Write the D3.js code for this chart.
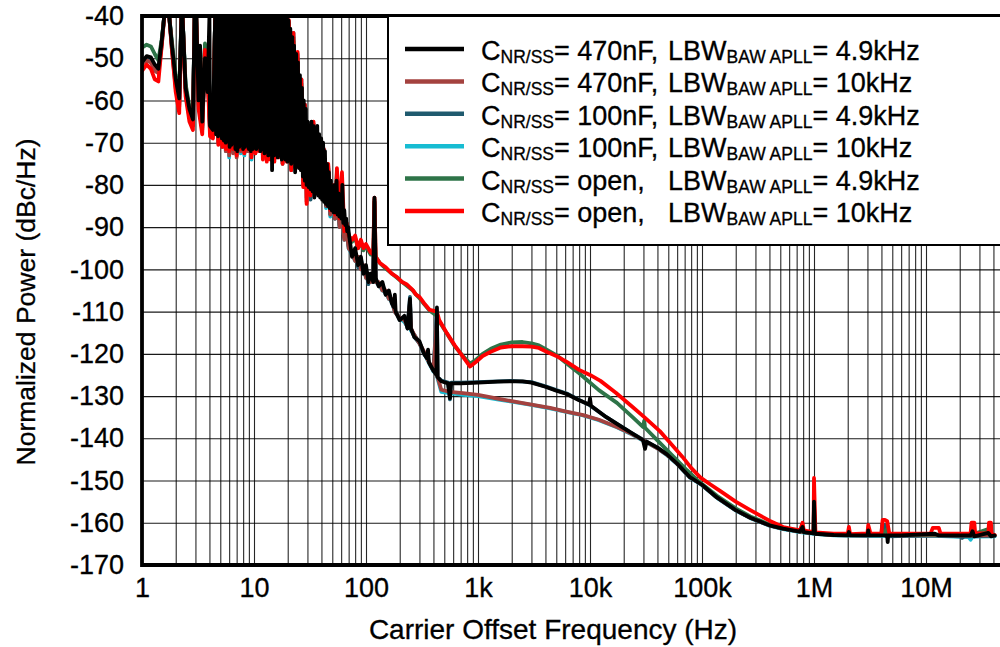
<!DOCTYPE html>
<html><head><meta charset="utf-8">
<script src="https://cdn.jsdelivr.net/npm/d3@7"></script>
<style>
html,body{margin:0;padding:0;background:#fff;}
svg{display:block;font-family:"Liberation Sans",Arial,sans-serif;}
svg text{fill:#000;stroke:#000;stroke-width:0.3px;}
</style></head>
<body><svg id="c" width="1000" height="647"></svg>
<script>
// ---------- data ----------
const xTickValues = [1, 10, 100, 1e3, 1e4, 1e5, 1e6, 1e7];
const xTickLabels = ["1", "10", "100", "1k", "10k", "100k", "1M", "10M"];
const yTickValues = [-170, -160, -150, -140, -130, -120, -110, -100, -90, -80, -70, -60, -50, -40];

const seriesNames = [
  ["470nF,", "4.9kHz"], ["470nF,", "10kHz"], ["100nF,", "4.9kHz"],
  ["100nF,", "10kHz"], ["open,", "4.9kHz"], ["open,", "10kHz"]
];
const seriesColors = ["#000000", "#A4423F", "#1F5A6E", "#17BCD2", "#2E7448", "#FF0000"];

// low-frequency spur region (Hz), shared by the coloured traces
const lowF = [1, 1.1, 1.2, 1.3, 1.4, 1.5, 1.58, 1.75, 1.85, 2.0, 2.15, 2.25, 2.3, 2.45, 2.65, 2.85, 2.95, 3.05, 3.2, 3.45,
  3.65, 3.85, 4.05, 4.3, 4.5, 4.6, 4.8, 5.0, 5.2, 5.4, 5.6, 5.8, 6.0, 6.2, 6.5, 6.8, 7.0, 7.3, 7.6, 7.9,
  8.2, 8.5, 8.8, 9.1, 9.5, 9.9, 10.3, 10.7, 11.1, 11.5, 12.0, 12.5, 13.0, 13.5, 14.0, 14.6, 15.2, 15.8, 16.5, 17.2,
  18.0, 18.8, 19.6, 20.5, 21.5, 22.5, 23.5, 24.5, 25.5, 26.5, 27.5, 28.5, 29.5, 30.5, 32, 34, 36, 38, 40, 42,
  44, 46, 48, 50, 53, 55, 58, 61, 64, 67, 70];

const brnLow = [-51.5, -50.5, -51, -53, -53.5, -47, -40, -40, -48, -57, -61.5, -40, -40, -58, -64, -66, -40, -40, -61, -67,
  -48, -53, -67.5, -68.5, -40, -40, -70, -40, -71, -40, -72, -40, -73, -40, -72.5, -40, -73.5, -40, -72, -40,
  -72.5, -40, -72, -40, -73, -40, -72.5, -40, -71.5, -40, -73, -40, -74, -40, -73.5, -40, -74, -40, -73, -40,
  -75, -40, -74, -43, -76, -46, -76, -51, -72, -57, -80, -63, -84, -68, -82, -67, -81, -70, -75, -73,
  -85, -77, -87, -82, -88, -80, -90, -87, -93, -91, -95];
const tealLow = [-50.5, -49.8, -50, -52, -52.8, -46, -40, -40, -47, -56, -60.5, -40, -40, -57, -63, -65.5, -40, -40, -60, -66,
  -47, -52, -66.5, -67.5, -40, -40, -69, -40, -70, -40, -71, -40, -72, -40, -71, -40, -72.5, -40, -71, -40,
  -71.5, -40, -71, -40, -72.5, -40, -71.5, -40, -71, -40, -72.5, -40, -73, -40, -72.5, -40, -73.5, -40, -72.5, -40,
  -74.5, -40, -73.5, -42, -76.5, -44, -75, -49, -71, -55, -79, -61, -77, -66, -83.5, -65.5, -81, -68.5, -74.5, -71.5,
  -85, -75.5, -87, -80.5, -88, -78, -89.5, -85.5, -92.5, -90, -94.5];
const cyanLow = [-51, -50.2, -50.5, -52.5, -53, -46.5, -40, -40, -47.5, -56.5, -61, -40, -40, -57.5, -63.5, -66, -40, -40, -60.5, -66.5,
  -47.5, -52.5, -67, -68, -40, -40, -70, -40, -71, -40, -72, -40, -73.5, -40, -72, -40, -73, -40, -72.5, -40,
  -73, -40, -72, -40, -74, -40, -72, -40, -71.5, -40, -73, -40, -73.5, -40, -73, -40, -74, -40, -73, -40,
  -75, -40, -74, -43, -76, -46, -76, -51, -72.5, -57, -80, -63, -83, -68, -82, -67, -81.5, -70, -75, -73,
  -85.5, -77, -87.5, -82, -88, -80, -90, -87, -93, -91, -95];
const grnLow = [-47.5, -46.8, -47.2, -49, -50.5, -45.5, -40, -40, -46, -54, -58.5, -40, -40, -56, -61.5, -64, -40, -40, -59, -64.5,
  -46.5, -51, -65.5, -66.5, -40, -40, -67.5, -40, -68.5, -40, -69.5, -40, -70.5, -40, -69.5, -40, -71.5, -40, -69.5, -40,
  -70.5, -40, -69.5, -40, -71.5, -40, -70.5, -40, -69.5, -40, -71.5, -40, -72, -40, -71.5, -40, -72.5, -40, -71.5, -40,
  -73.5, -40, -72.5, -41.5, -75.5, -45, -73.5, -50, -70, -56, -77.5, -62, -76, -67, -82, -66, -79, -69, -73, -72,
  -83, -76, -85, -80, -86, -77, -88, -84, -91, -89, -92];
const redLow = [-53, -51.5, -52.5, -55, -55.5, -47, -40, -40, -48, -58, -63, -40, -40, -59, -65, -67, -40, -40, -62, -68,
  -48, -54, -68.5, -69, -40, -40, -70.5, -40, -71, -40, -71.5, -40, -72, -40, -71.5, -40, -73, -40, -71.5, -40,
  -72.5, -40, -71.5, -40, -73.5, -40, -72.5, -40, -72, -40, -74, -40, -74.5, -40, -74, -40, -74.5, -40, -73.5, -40,
  -75, -40, -74.5, -41, -76.5, -44, -76, -48.5, -72, -55, -80.5, -61, -84.5, -66, -82.5, -65, -81, -68.5, -74, -71.5,
  -84, -75, -86, -80, -87, -76, -88, -77, -91, -89, -92];

// black trace: sparse spurs 1-4.3 Hz, then the dense spur forest 4.5-70 Hz
const blkStart = [[1,-51],[1.1,-49.5],[1.2,-49.8],[1.3,-51.5],[1.4,-52.5],[1.5,-46],[1.58,-40],[1.75,-40],[1.85,-47],[2.0,-55],
  [2.15,-59.5],[2.25,-40],[2.3,-40],[2.45,-57],[2.65,-62],[2.85,-64.5],[2.95,-40],[3.05,-40],[3.2,-60],[3.3,-47],[3.45,-65],
  [3.65,-50],[3.85,-58],[4.0,-40],[4.05,-66],[4.3,-67]];
const blkDense = [[4.5,-40],[4.59,-68],[4.68,-40],[4.78,-68.5],[4.87,-40],[4.97,-68],[5.07,-40],[5.17,-69],[5.27,-40],[5.38,-69.5],
  [5.49,-40],[5.6,-70],[5.71,-40],[5.82,-69.5],[5.94,-40],[6.06,-71],[6.18,-40],[6.3,-70.5],[6.43,-40],[6.56,-70],
  [6.69,-40],[6.82,-71.5],[6.96,-40],[7.1,-72],[7.24,-40],[7.38,-71],[7.53,-40],[7.68,-70.5],[7.84,-40],[7.99,-71.5],
  [8.15,-40],[8.32,-71],[8.48,-40],[8.65,-70.5],[8.83,-40],[9.0,-71.5],[9.18,-40],[9.37,-72],[9.56,-40],[9.75,-71.5],
  [9.94,-40],[10.1,-71],[10.3,-40],[10.5,-71.5],[10.8,-40],[11.0,-71],[11.2,-40],[11.4,-72],[11.7,-40],[11.9,-71.5],
  [12.1,-40],[12.4,-72.5],[12.6,-40],[12.9,-72],[13.1,-40],[13.4,-73],[13.7,-40],[13.9,-72.5],[14.2,-40],[14.5,-76.5],
  [14.8,-40],[15.1,-73],[15.4,-40],[15.7,-72.5],[16.0,-40],[16.3,-73.5],[16.6,-40],[17.0,-73],[17.3,-40],[17.7,-74],
  [18.0,-40],[18.4,-73.5],[18.8,-40],[19.1,-74],[19.5,-40],[19.9,-74.5],[20.3,-41],[20.7,-74],[21.1,-43],[21.5,-75],
  [22.0,-45],[22.4,-74.5],[22.8,-47],[23.3,-77],[23.8,-49],[24.2,-75.5],[24.7,-51],[25.2,-76],[25.7,-54],[26.2,-76.5],
  [26.8,-57],[27.3,-78],[27.8,-60],[28.4,-79],[29.0,-62],[29.5,-80],[30.1,-65],[30.7,-80.5],[31.3,-66],[32.0,-81],
  [32.6,-65],[33.3,-81.5],[33.9,-66],[34.6,-83],[35.3,-67],[36.0,-82],[36.7,-66],[37.5,-82.5],[38.2,-68],[39.0,-83],
  [39.8,-69],[40.6,-83.5],[41.4,-70],[42.2,-84],[43.0,-72],[43.9,-84.5],[44.8,-75],[45.7,-85],[46.6,-77],[47.5,-85.5],
  [48.5,-79],[49.4,-86],[50.4,-81],[51.4,-86.5],[52.5,-80],[53.5,-86.5],[54.6,-79],[55.7,-87],[56.8,-82],[57.9,-87.5],
  [59.1,-84],[60.3,-88],[61.5,-80],[62.7,-89],[64.0,-86],[65.3,-89.5],[66.6,-88],[67.9,-91],[69.3,-90],[70.7,-92]];

// mid / high frequency parts: [Hz, dBc/Hz]
const blkHigh = [[75,-97],[80,-95],[85,-99],[90,-97],[95,-101],[100,-99],[105,-103],[110,-101],[116,-103],[119,-83],[122,-102],
  [130,-104],[140,-103],[150,-106],[160,-105],[170,-108],[178,-109],[181,-106],[184,-110],[200,-112],[220,-111],[235,-114],
  [247,-107],[252,-114],[270,-116],[300,-117],[330,-120],[350,-121],[358,-119],[365,-122],[400,-124],[425,-125],[430,-109],
  [435,-125.5],[470,-126.5],[540,-127],[562,-130.5],[575,-127],[700,-127],[1000,-126.8],[1500,-126.6],[2000,-126.5],
  [2500,-126.5],[3000,-126.8],[4000,-127.8],[5000,-128.7],[6200,-129.5],[8000,-131],[9800,-132],[10000,-130.5],[10200,-132.3],
  [14000,-135],[17400,-136.6],[23000,-138.6],[29700,-140.4],[31000,-142.5],[32000,-140.8],[40000,-142.2],[48700,-143.8],
  [60000,-146],[78000,-149.2],[100000,-151],[136000,-154],[200000,-157],[270000,-158.8],[400000,-160.6],[530000,-161.4],
  [750000,-162.1],[790000,-161],[810000,-162.2],[990000,-162.5],[1000000,-155],[1020000,-162.6],[1500000,-162.9],
  [2000000,-163],[2050000,-162.2],[2100000,-163],[3000000,-163],[3050000,-161.8],[3100000,-163],[4500000,-163],
  [4550000,-164.6],[4600000,-163],[6000000,-163],[12000000,-162.6],[13000000,-163],[25000000,-163],[26000000,-162],
  [27000000,-163.2],[36000000,-162.4],[38000000,-163.2],[41000000,-163]];
const brnHigh = [[75,-96],[80,-98],[85,-97],[90,-100],[95,-99],[100,-102],[105,-101],[110,-103],[116,-102],[119,-84],[122,-103],
  [130,-103],[140,-105],[150,-105],[160,-107],[170,-107],[180,-110],[200,-111.5],[220,-112],[235,-113.5],[247,-108],[252,-114],
  [270,-115.5],[300,-117.5],[330,-119.5],[350,-121],[365,-122],[400,-124],[430,-112],[435,-125.5],[470,-128.5],[560,-129],
  [735,-129.3],[1000,-129.7],[1580,-130.7],[2000,-131.2],[3000,-132],[4400,-132.8],[6000,-133.6],[8700,-134.5],[12000,-135.6],
  [17400,-137.3],[23000,-138.8],[30000,-140.5],[40000,-142.4],[48700,-143.9],[60000,-146],[78000,-149.2],[100000,-151],
  [136000,-154],[200000,-157],[270000,-158.8],[400000,-160.6],[530000,-161.4],[750000,-162.1],[1000000,-162.5],
  [1500000,-162.9],[3000000,-163],[4000000,-162.8],[6000000,-163],[12000000,-163],[25000000,-163],[41000000,-163]];
const tealHigh = [[75,-96.5],[80,-96],[85,-99.5],[90,-97.5],[95,-101],[100,-100],[105,-103.5],[110,-101.5],[116,-103],[119,-84],
  [122,-102.5],[130,-104],[140,-103.5],[150,-106],[160,-105.5],[170,-108],[180,-109.5],[200,-112],[220,-111.5],[235,-114],
  [247,-106.5],[252,-114],[270,-116],[300,-117.5],[330,-120],[350,-121],[365,-122],[400,-124],[430,-110],[435,-125.5],
  [470,-126.3],[540,-126.8],[562,-130.8],[575,-126.8],[700,-126.8],[1000,-126.7],[1500,-126.5],[2000,-126.4],[3000,-126.7],
  [4000,-127.7],[5000,-128.6],[6200,-129.4],[8000,-130.9],[10000,-132.2],[14000,-135],[17400,-136.6],[23000,-138.6],
  [29700,-140.3],[40000,-142.2],[48700,-143.8],[60000,-146],[78000,-149.2],[100000,-151],[136000,-154],[200000,-157],
  [270000,-158.8],[400000,-160.6],[530000,-161.4],[750000,-162.1],[1000000,-162.5],[1500000,-162.9],[3000000,-163],
  [4000000,-163],[4050000,-160.5],[4300000,-160.5],[4400000,-163.2],[12000000,-163],[20000000,-163.2],[21000000,-163.6],
  [22000000,-163.2],[41000000,-163.1]];
const cyanHigh = [[75,-96.5],[80,-98],[85,-97.5],[90,-100],[95,-99.5],[100,-102],[105,-101.5],[110,-103],[116,-102.5],[119,-84.5],
  [122,-103],[130,-103.5],[140,-105],[150,-105.5],[160,-107],[170,-107.5],[180,-110],[200,-111.5],[220,-112.5],[235,-113.5],
  [247,-108],[252,-114.5],[270,-115.5],[300,-117.5],[330,-119.8],[350,-121.2],[365,-122.2],[400,-124.2],[430,-112],
  [435,-125.8],[470,-129],[560,-129.3],[735,-129.7],[1000,-130],[1580,-130.9],[2000,-131.3],[3000,-132.1],[4400,-132.9],
  [6000,-133.7],[8700,-134.6],[12000,-135.7],[17400,-137.4],[23000,-138.9],[30000,-140.6],[40000,-142.4],[48700,-144],
  [60000,-146.1],[78000,-149.3],[100000,-151.1],[136000,-154.1],[200000,-157.1],[270000,-158.9],[400000,-160.7],
  [530000,-161.5],[750000,-162.2],[1000000,-162.6],[1500000,-163],[3000000,-163.1],[6000000,-163.1],[12000000,-163.1],
  [24000000,-163.4],[25000000,-164],[26000000,-163.3],[41000000,-163.2]];
const grnHigh = [[75,-93.5],[80,-92.5],[85,-95],[90,-93.5],[95,-95.5],[100,-94.5],[110,-96.5],[116,-96.5],[119,-83.5],[122,-97],
  [133,-98.5],[150,-99.8],[170,-101],[189,-102],[210,-103],[230,-103.8],[262,-105],[280,-106],[300,-106.8],[330,-108.2],
  [371,-109.8],[430,-111],[450,-112.3],[527,-115.2],[620,-118.2],[735,-120.5],[850,-122.3],[950,-121.5],[1100,-120],
  [1300,-118.8],[1600,-117.8],[2000,-117.3],[2500,-117.2],[3000,-117.5],[3500,-118],[4100,-119],[5000,-120.3],[5400,-121],
  [6200,-122.3],[8000,-124.6],[9400,-126.2],[12000,-128.6],[17400,-131.6],[24000,-135],[29700,-137.3],[30500,-135.8],
  [31000,-137.5],[40000,-140.5],[48700,-142.8],[60000,-145.2],[73000,-147.5],[90000,-149.8],[100000,-150.8],[136000,-153.6],
  [200000,-156.6],[270000,-158.5],[400000,-160.4],[530000,-161.3],[750000,-162],[990000,-162.4],[1000000,-156],
  [1020000,-162.5],[2000000,-162.9],[4000000,-162.8],[4500000,-161.5],[4600000,-162.8],[12000000,-162.8],[25000000,-162.9],
  [36000000,-161.5],[37000000,-162.9],[41000000,-163]];
const redHigh = [[75,-93],[80,-92],[85,-95],[90,-93],[95,-95],[100,-94],[110,-96],[116,-96.5],[119,-83],[122,-97],[133,-98.5],
  [150,-99.5],[170,-101],[189,-101.8],[210,-103],[230,-103.5],[262,-104.9],[280,-106],[300,-106.5],[330,-108],[371,-109.6],
  [430,-110],[450,-112],[527,-115.1],[620,-118],[735,-120.7],[850,-123],[950,-122],[1100,-120.5],[1300,-119.5],[1600,-118.5],
  [2000,-118.2],[2500,-118.2],[3000,-118.3],[3500,-118.6],[4100,-119.5],[5000,-120.5],[6200,-121.9],[8000,-123.8],
  [10000,-125],[12400,-126.4],[17000,-129.2],[24000,-132.6],[30000,-134.8],[42000,-138.3],[55000,-141.8],[67000,-144.4],
  [80000,-147],[97000,-149.3],[120000,-151],[146000,-152.5],[200000,-155],[270000,-157],[400000,-159.5],[530000,-161],
  [750000,-161.8],[790000,-160],[810000,-161.8],[990000,-162.2],[1000000,-149.4],[1030000,-162.3],[1500000,-162.6],
  [2000000,-162.6],[2050000,-161],[2100000,-162.7],[3000000,-162.5],[3050000,-160.5],[3200000,-162.6],[4000000,-162.5],
  [4100000,-159.3],[4300000,-159.3],[4500000,-159.6],[4700000,-162.5],[6000000,-162.6],[11000000,-162.5],[11500000,-161.2],
  [13000000,-161.2],[13500000,-162.6],[25000000,-162.5],[25500000,-160],[27000000,-160],[27500000,-162.5],[36000000,-162.5],
  [36500000,-160],[38000000,-160],[38500000,-162.7],[41000000,-162.9]];

// ---------- layout ----------
const mLeft = 142, mTop = 16, mBottom = 565, decadeW = 112;
const xMax = 5e7;

const svg = d3.select("#c");
const x = d3.scaleLog().domain([1, xMax]).range([mLeft, mLeft + decadeW * Math.log10(xMax)]);
const y = d3.scaleLinear().domain([-170, -40]).range([mBottom, mTop]);
const mRight = x(xMax);

// grid
const gridVals = [];
for (let e = 0; e <= 7; e++) for (let m = 1; m <= 9; m++) { const v = m * Math.pow(10, e); if (v > 1 && v <= xMax) gridVals.push(v); }

const gx = svg.append("g").attr("transform", `translate(0,${mBottom})`)
  .call(d3.axisBottom(x).tickValues(gridVals).tickSize(-(mBottom - mTop)).tickFormat(""));
gx.select(".domain").remove();
gx.selectAll("line").attr("stroke", "#000").attr("stroke-width", 1.1).attr("opacity", 0.85);

const gy = svg.append("g").attr("transform", `translate(${mLeft},0)`)
  .call(d3.axisLeft(y).tickValues(yTickValues.filter(v => v > -170 && v < -40)).tickSize(-(mRight - mLeft)).tickFormat(""));
gy.select(".domain").remove();
gy.selectAll("line").attr("stroke", "#000").attr("stroke-width", 1.1).attr("opacity", 0.9);

// traces
svg.append("clipPath").attr("id", "clip").append("rect")
  .attr("x", mLeft).attr("y", mTop).attr("width", mRight - mLeft).attr("height", mBottom - mTop);

const lowSets = [null, brnLow, tealLow, cyanLow, grnLow, redLow];
const highSets = [blkHigh, brnHigh, tealHigh, cyanHigh, grnHigh, redHigh];
const series = seriesNames.map((n, i) => ({
  color: seriesColors[i],
  data: i === 0 ? blkStart.concat(blkDense, blkHigh)
               : lowF.map((f, k) => [f, lowSets[i][k]]).concat(highSets[i])
}));
const drawOrder = [3, 2, 1, 4, 5, 0];
const line = d3.line().x(d => x(d[0])).y(d => y(d[1]));
const gl = svg.append("g").attr("clip-path", "url(#clip)");
drawOrder.forEach(i => {
  gl.append("path").datum(series[i].data).attr("d", line)
    .attr("fill", "none").attr("stroke", series[i].color)
    .attr("stroke-width", 3.8).attr("stroke-linejoin", "round").attr("stroke-linecap", "round");
});

// frame
svg.append("path")
  .attr("d", `M${mRight + 5},${mTop} H${mLeft} V${mBottom} H${mRight + 5}`)
  .attr("fill", "none").attr("stroke", "#000").attr("stroke-width", 3.8);

// tick labels
const xl = svg.append("g").attr("transform", `translate(0,${mBottom})`)
  .call(d3.axisBottom(x).tickValues(xTickValues).tickFormat((d, i) => xTickLabels[i]).tickSize(0).tickPadding(13));
xl.select(".domain").remove();
xl.selectAll("text").attr("font-size", 27).attr("fill", "#000").attr("font-family", "Liberation Sans, Arial, sans-serif");

const yl = svg.append("g").attr("transform", `translate(${mLeft},0)`)
  .call(d3.axisLeft(y).tickValues(yTickValues).tickFormat(d => String(d)).tickSize(0).tickPadding(18));
yl.select(".domain").remove();
yl.selectAll("text").attr("font-size", 27).attr("fill", "#000").attr("font-family", "Liberation Sans, Arial, sans-serif");

// axis titles
svg.append("text").attr("x", 553).attr("y", 639).attr("text-anchor", "middle")
  .attr("font-size", 28).text("Carrier Offset Frequency (Hz)");
svg.append("text").attr("transform", "translate(35,302) rotate(-90)").attr("text-anchor", "middle")
  .attr("font-size", 26.5).text("Normalized Power (dBc/Hz)");

// legend
const lg = svg.append("g");
lg.append("rect").attr("x", 388).attr("y", mTop).attr("width", 620).attr("height", 229)
  .attr("fill", "#fff").attr("stroke", "#000").attr("stroke-width", 2);
seriesNames.forEach((n, i) => {
  const by = 60 + i * 32.4;
  lg.append("line").attr("x1", 405).attr("x2", 464).attr("y1", by - 11).attr("y2", by - 11)
    .attr("stroke", seriesColors[i]).attr("stroke-width", 4.5);
  const t1 = lg.append("text").attr("x", 481).attr("y", by).attr("font-size", 27);
  t1.append("tspan").text("C");
  t1.append("tspan").attr("font-size", 17.5).attr("dy", 3).text("NR/SS");
  t1.append("tspan").attr("dy", -3).text("= " + n[0]);
  const t2 = lg.append("text").attr("x", 668).attr("y", by).attr("font-size", 27);
  t2.append("tspan").text("LBW");
  t2.append("tspan").attr("font-size", 17.5).attr("dy", 3).text("BAW APLL");
  t2.append("tspan").attr("dy", -3).text("= " + n[1]);
});
</script>
</body></html>
